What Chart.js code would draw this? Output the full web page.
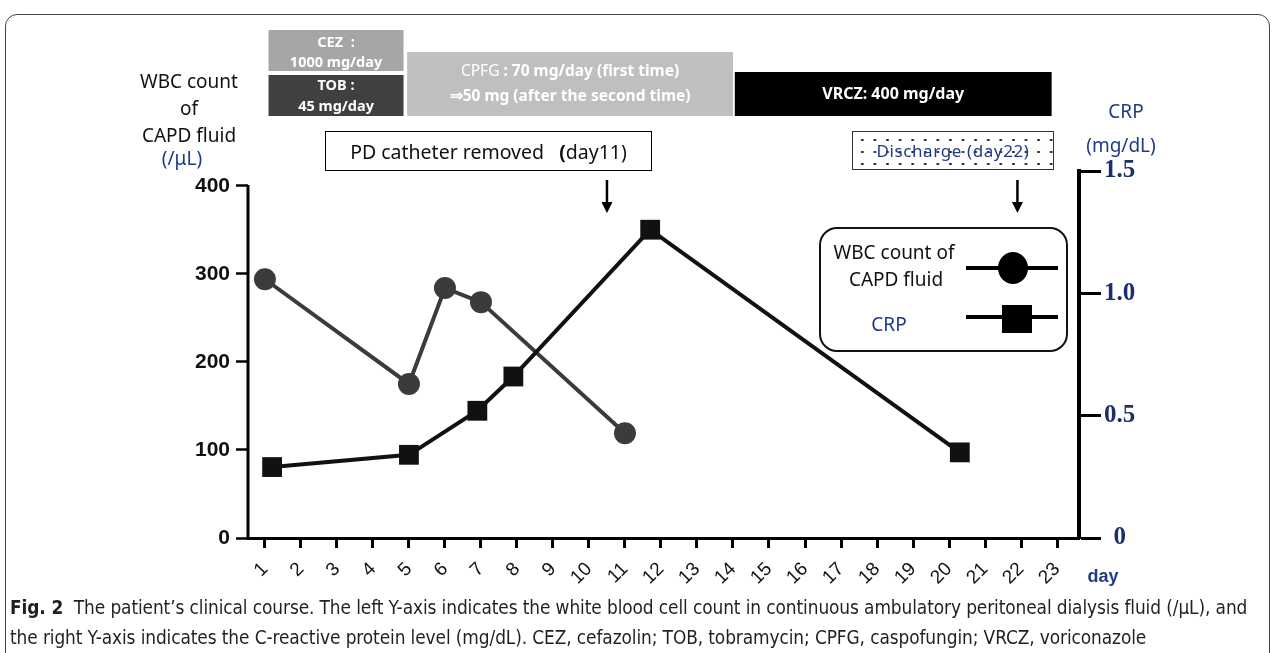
<!DOCTYPE html>
<html>
<head>
<meta charset="utf-8">
<script src="https://cdn.jsdelivr.net/npm/chart.js@4/dist/chart.umd.min.js"></script>
<style>
  body { margin: 0; width: 1276px; height: 653px; overflow: hidden; background: #fff; position: relative; font-family: "Noto Sans", sans-serif; }
  canvas { position: absolute; left: 0; top: 0; }
  .frame { position: absolute; left: 5px; top: 14px; width: 1263px; height: 700px; border: 1px solid #444; border-radius: 12px; }
  .c { position: absolute; transform: translate(-50%, -50%); white-space: nowrap; color: #111; }
  .navy { color: #1f3a86; }
  .box { position: absolute; box-sizing: border-box; display: flex; align-items: center; justify-content: center; white-space: nowrap; }
  .caption { position: absolute; left: 10px; top: 593px; width: 1264px; font-family: "DejaVu Sans Condensed", sans-serif; font-size: 18.9px; line-height: 29.5px; color: #231f20; letter-spacing: -0.1px; }
</style>
</head>
<body>
<div class="frame"></div>
<canvas id="myChart" width="1276" height="653"></canvas>

<!-- axis titles -->
<div class="c" style="left:189px;top:81px;font-size:19px">WBC count</div>
<div class="c" style="left:189px;top:108px;font-size:19px">of</div>
<div class="c" style="left:189px;top:135px;font-size:19px">CAPD fluid</div>
<div class="c navy" style="left:182px;top:158px;font-size:19px">(/μL)</div>
<div class="c navy" style="left:1126px;top:111px;font-size:19px">CRP</div>
<div class="c navy" style="left:1121px;top:145px;font-size:19px">(mg/dL)</div>
<div class="c navy" style="left:1103px;top:576px;font-size:18px;font-weight:bold;font-family:'Liberation Sans'">day</div>

<!-- event boxes -->
<div class="box" style="left:325px;top:131px;width:327px;height:40px;border:1px solid #000;font-size:19.5px;color:#111">PD catheter removed&nbsp;&nbsp;&nbsp;<b>(</b>day11)</div>
<div class="box navy" style="left:852px;top:131px;width:202px;height:39px;border:1px solid #333;font-size:17px;letter-spacing:0.6px;background-image:radial-gradient(circle, #222 1px, transparent 1.4px);background-size:12.6px 12px;background-position:3px 2px">Discharge (day22)</div>

<!-- legend -->
<div class="box" style="left:819px;top:227px;width:249px;height:125px;border:2px solid #111;border-radius:18px"></div>
<div class="c" style="left:894px;top:252px;font-size:19px">WBC count of</div>
<div class="c" style="left:896px;top:279px;font-size:19px">CAPD fluid</div>
<div class="c navy" style="left:889px;top:324px;font-size:19px">CRP</div>
<div style="position:absolute;left:966px;top:266px;width:92px;height:4px;background:#000"></div>
<div style="position:absolute;left:998px;top:252px;width:30px;height:32px;border-radius:50%;background:#000"></div>
<div style="position:absolute;left:966px;top:315px;width:92px;height:4px;background:#000"></div>
<div style="position:absolute;left:1002px;top:305px;width:30px;height:28px;background:#000"></div>

<div class="caption"><b>Fig. 2</b>&nbsp;&nbsp;The patient’s clinical course. The left Y-axis indicates the white blood cell count in continuous ambulatory peritoneal dialysis fluid (/μL), and<br>the right Y-axis indicates the C-reactive protein level (mg/dL). CEZ, cefazolin; TOB, tobramycin; CPFG, caspofungin; VRCZ, voriconazole</div>

<script>
// x axis days
var dayTicks = [1, 2, 3, 4, 5, 6, 7, 8, 9, 10, 11, 12, 13, 14, 15, 16, 17, 18, 19, 20, 21, 22, 23]

// WBC count of CAPD fluid (/uL)
var wbcDays = [1, 5, 6, 7, 11]
var wbcCount = [294, 175, 284, 268, 119]

// CRP (mg/dL)
var crpDays = [1.2, 5, 6.9, 7.9, 11.7, 20.3]
var crpLevel = [0.29, 0.34, 0.52, 0.66, 1.26, 0.35]

var wbcTicks = [0, 100, 200, 300, 400]
var crpTicks = [0, 0.5, 1.0, 1.5]
var crpTickLabels = ["0", "0.5", "1.0", "1.5"]

// drug regimens (day ranges)
var regimenNames = ["CEZ", "TOB", "CPFG", "VRCZ"]
var regimenStart = [1.1, 1.1, 4.95, 14.05]
var regimenEnd = [4.85, 4.85, 14.0, 22.85]
var regimenLines = [
  ["CEZ  :", "1000 mg/day"],
  ["TOB :", "45 mg/day"],
  ["CPFG : 70 mg/day (first time)", "⇒50 mg (after the second time)"],
  ["VRCZ: 400 mg/day"],
]

// arrows for PD catheter removal and discharge
var eventDays = [10.5, 21.9]

main()

function main() {
  var extras = {
    id: "extras",
    afterDraw: function(chart) {
      var ctx = chart.ctx
      var x = chart.scales.x
      var yL = chart.scales.yL
      var area = chart.chartArea
      ctx.save()

      // left axis line stops at 400
      ctx.strokeStyle = "#000"
      ctx.lineWidth = 3
      ctx.beginPath()
      ctx.moveTo(area.left, yL.getPixelForValue(0) + 1.5)
      ctx.lineTo(area.left, yL.getPixelForValue(400) - 1)
      ctx.stroke()

      // regimen bars
      var rows = [[30, 71], [75, 116], [52, 116], [72, 116]]
      var fills = ["#a6a6a6", "#404040", "#bfbfbf", "#000000"]
      var sizes = [14.5, 14.5, 15.5, 16]
      var lineY = [[43, 63], [86, 107], [72, 97], [94]]
      for (var i in regimenNames) {
        var x0 = x.getPixelForValue(regimenStart[i])
        var x1 = x.getPixelForValue(regimenEnd[i])
        ctx.fillStyle = fills[i]
        ctx.fillRect(x0, rows[i][0], x1 - x0, rows[i][1] - rows[i][0])
        ctx.fillStyle = "#fff"
        ctx.textBaseline = "middle"
        var cx = (x0 + x1) / 2
        regimenLines[i].forEach(function(line, j) {
          var boldFont = "bold " + sizes[i] + "px 'Noto Sans'"
          var normFont = sizes[i] + "px 'Noto Sans'"
          if (line.indexOf("CPFG") === 0) {
            // "CPFG" is not bold in the original
            var head = "CPFG", rest = line.slice(4)
            ctx.font = normFont
            var w1 = ctx.measureText(head).width
            ctx.font = boldFont
            var w2 = ctx.measureText(rest).width
            var sx = cx - (w1 + w2) / 2
            ctx.textAlign = "left"
            ctx.font = normFont
            ctx.fillText(head, sx, lineY[i][j])
            ctx.font = boldFont
            ctx.fillText(rest, sx + w1, lineY[i][j])
          } else {
            ctx.font = boldFont
            ctx.textAlign = "center"
            ctx.fillText(line, cx, lineY[i][j])
          }
        })
      }

      // arrows
      ctx.fillStyle = "#000"
      ctx.lineWidth = 2.5
      eventDays.forEach(function(d) {
        var px = x.getPixelForValue(d)
        ctx.beginPath()
        ctx.moveTo(px, 180)
        ctx.lineTo(px, 204)
        ctx.stroke()
        ctx.beginPath()
        ctx.moveTo(px - 5.5, 202)
        ctx.lineTo(px + 5.5, 202)
        ctx.lineTo(px, 213)
        ctx.closePath()
        ctx.fill()
      })
      ctx.restore()
    }
  }

  var ctx = document.getElementById("myChart")
  new Chart(ctx, {
    type: "line",
    data: {
      datasets: [
        {
          label: "CRP",
          yAxisID: "yR",
          data: crpDays.map(function(d, i) { return { x: d, y: crpLevel[i] } }),
          borderColor: "#111",
          borderWidth: 4,
          pointStyle: "rect",
          pointRadius: 14,
          pointBackgroundColor: "#111",
          pointBorderWidth: 0,
          lineTension: 0,
          fill: false,
        },
        {
          label: "WBC count of CAPD fluid",
          yAxisID: "yL",
          data: wbcDays.map(function(d, i) { return { x: d, y: wbcCount[i] } }),
          borderColor: "#3b3b3b",
          borderWidth: 4,
          pointStyle: "circle",
          pointRadius: 11,
          pointBackgroundColor: "#3b3b3b",
          pointBorderWidth: 0,
          lineTension: 0,
          fill: false,
        },
      ]
    },
    options: {
      responsive: false,
      animation: false,
      layout: { padding: { left: 100, top: 171, right: 60, bottom: 40 } },
      plugins: { legend: { display: false }, tooltip: { enabled: false } },
      scales: {
        x: {
          type: "linear",
          min: 0.53,
          max: 23.61,
          afterBuildTicks: function(s) { s.ticks = dayTicks.map(function(v) { return { value: v } }) },
          afterFit: function(s) { s.height = 75 },
          ticks: {
            minRotation: 45, maxRotation: 45, autoSkip: false, padding: 10,
            color: "#111",
            font: { family: "Liberation Sans", size: 19 },
            callback: function(v) { return String(v) },
          },
          grid: { drawOnChartArea: false, tickLength: 10, tickWidth: 3, tickColor: "#000" },
          border: { display: true, width: 3, color: "#000" },
        },
        yL: {
          position: "left",
          min: 0,
          max: 417,
          afterBuildTicks: function(s) { s.ticks = wbcTicks.map(function(v) { return { value: v } }) },
          afterFit: function(s) { s.width = 148 },
          ticks: { padding: 6, color: "#111", font: { family: "Liberation Sans", size: 21, weight: "bold" } },
          grid: { drawOnChartArea: false, tickLength: 12, tickWidth: 2.5, tickColor: "#000" },
          border: { display: false },
        },
        yR: {
          position: "right",
          min: 0,
          max: 1.5,
          afterBuildTicks: function(s) { s.ticks = crpTicks.map(function(v) { return { value: v } }) },
          afterFit: function(s) { s.width = 137 },
          ticks: {
            crossAlign: "center", padding: 3, color: "#1b2f6e",
            font: { family: "Liberation Serif", size: 25, weight: "bold" },
            callback: function(v, i) { return crpTickLabels[i] },
          },
          grid: { drawOnChartArea: false, tickLength: 22, tickWidth: 3, tickColor: "#000" },
          border: { display: true, width: 4, color: "#000" },
        },
      }
    },
    plugins: [extras]
  })
}
</script>
</body>
</html>
